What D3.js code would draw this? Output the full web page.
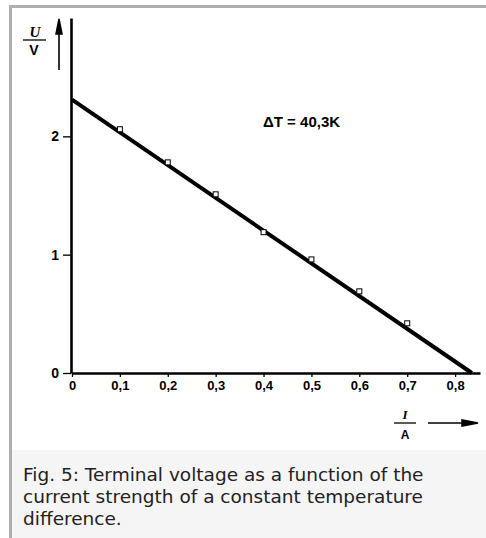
<!DOCTYPE html>
<html><head><meta charset="utf-8">
<script src="https://cdn.jsdelivr.net/npm/d3@7"></script>
<style>body{margin:0;background:#fff;}svg{display:block;}</style>
</head><body>
<svg id="c" width="486" height="538"></svg>
<script>
// Data
const currentA = [0.1, 0.2, 0.3, 0.4, 0.5, 0.6, 0.7];
const voltageV = [2.06, 1.78, 1.51, 1.19, 0.96, 0.69, 0.42];
const fitI = [0, 0.835];
const fitU = [2.31, 0];
const xTicks = [0, 0.1, 0.2, 0.3, 0.4, 0.5, 0.6, 0.7, 0.8];
const yTicks = [0, 1, 2];
const annotation = "ΔT = 40,3K";
const captionLines = ["Fig. 5: Terminal voltage as a function of the",
  "current strength of a constant temperature", "difference."];

const svg = d3.select("#c");
// frame
svg.append("rect").attr("x",12).attr("y",450).attr("width",474).attr("height",88).attr("fill","#f5f5f5");
svg.append("rect").attr("x",9).attr("y",5).attr("width",477).attr("height",3).attr("fill","#aeaeae");
svg.append("rect").attr("x",9).attr("y",5).attr("width",3).attr("height",533).attr("fill","#aeaeae");

const x = d3.scaleLinear().domain([0, 0.852]).range([72, 480]);
const y = d3.scaleLinear().domain([0, 3.0]).range([373, 18]);
const labFont = "'Liberation Sans', Arial, sans-serif";

const fmt = d => d === 0 ? "0" : d3.format(".1f")(d).replace(".", ",");
const gx = svg.append("g").attr("transform","translate(0,373)")
  .call(d3.axisBottom(x).tickValues(xTicks).tickSize(4).tickSizeOuter(0).tickFormat(fmt));
gx.select(".domain").attr("stroke","#000").attr("stroke-width",2.6);
gx.selectAll(".tick line").attr("stroke","#000").attr("stroke-width",1.3);
gx.selectAll(".tick text").attr("font-family",labFont).attr("font-weight","bold")
  .attr("font-size",13).attr("fill","#000").attr("dy","0.6em").attr("y",9);

const gy = svg.append("g").attr("transform","translate(71,0)")
  .call(d3.axisLeft(y).tickValues(yTicks).tickSize(8).tickSizeOuter(0).tickFormat(d3.format("d")));
gy.select(".domain").attr("stroke","#000").attr("stroke-width",2.6);
gy.selectAll(".tick line").attr("stroke","#000").attr("stroke-width",1.3);
gy.selectAll(".tick text").attr("font-family",labFont).attr("font-weight","bold")
  .attr("font-size",14).attr("fill","#000").attr("x",-12);

// fit line
const line = d3.line().x(d => x(d[0])).y(d => y(d[1]));
svg.append("path").datum(d3.zip(fitI, fitU)).attr("d", line)
  .attr("stroke","#000").attr("stroke-width",4).attr("fill","none");

// markers
svg.append("g").selectAll("rect").data(d3.zip(currentA, voltageV)).join("rect")
  .attr("x", d => x(d[0]) - 2.5).attr("y", d => y(d[1]) - 2.5)
  .attr("width",5).attr("height",5).attr("fill","#fff").attr("stroke","#000").attr("stroke-width",1);

// annotation
svg.append("text").attr("x",263).attr("y",127).attr("font-family",labFont).attr("font-weight","bold")
  .attr("font-size",15).attr("fill","#000").text(annotation);

// y axis label U/V with arrow
svg.append("text").attr("x",35).attr("y",37).attr("text-anchor","middle").attr("font-family","'Liberation Serif', serif")
  .attr("font-style","italic").attr("font-weight","bold").attr("font-size",15).text("U");
svg.append("line").attr("x1",23).attr("x2",46).attr("y1",40).attr("y2",40).attr("stroke","#000").attr("stroke-width",1.3);
svg.append("text").attr("x",34).attr("y",55).attr("text-anchor","middle").attr("font-family",labFont)
  .attr("font-weight","bold").attr("font-size",14).text("V");
svg.append("line").attr("x1",59).attr("x2",59).attr("y1",30).attr("y2",70).attr("stroke","#000").attr("stroke-width",1.6);
svg.append("path").attr("d","M59,19 L62,34 L56,34 Z").attr("fill","#000").attr("stroke","#000").attr("stroke-width",1.5);

// x axis label I/A with arrow
svg.append("text").attr("x",405).attr("y",419).attr("text-anchor","middle").attr("font-family","'Liberation Serif', serif")
  .attr("font-style","italic").attr("font-weight","bold").attr("font-size",13).text("I");
svg.append("line").attr("x1",394).attr("x2",416).attr("y1",423).attr("y2",423).attr("stroke","#000").attr("stroke-width",1.3);
svg.append("text").attr("x",405).attr("y",439).attr("text-anchor","middle").attr("font-family",labFont)
  .attr("font-weight","bold").attr("font-size",12).text("A");
svg.append("line").attr("x1",428).attr("x2",470).attr("y1",423).attr("y2",423).attr("stroke","#000").attr("stroke-width",1.6);
svg.append("path").attr("d","M478,423 L462,420 L462,426 Z").attr("fill","#000").attr("stroke","#000").attr("stroke-width",1.5);

// caption
svg.append("g").selectAll("text").data(captionLines).join("text")
  .attr("x",23).attr("y",(d,i) => 481 + i*22)
  .attr("font-family","'DejaVu Sans', sans-serif").attr("font-size",18.5).attr("fill","#222").text(d => d);
</script>
</body></html>
